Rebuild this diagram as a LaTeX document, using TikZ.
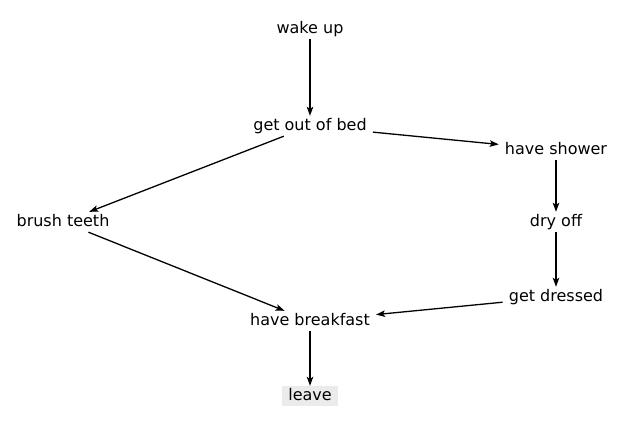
\documentclass[tikz,border=0pt]{standalone}
\usepackage{fontspec}
\setmainfont{DejaVu Sans}
\usetikzlibrary{arrows.meta}
\begin{document}
\begin{tikzpicture}[x=1pt,y=-1pt,
  every node/.style={font=\fontsize{16}{19}\selectfont, inner xsep=6pt, inner ysep=2pt,
    text height=12pt, text depth=4pt, anchor=center},
  stepnode/.style={},
  lastnode/.style={fill=black!8},
  conn/.style={line width=1.3pt, -{Stealth[length=9pt,width=6.5pt,inset=2pt]}}]
\useasboundingbox (0,0) rectangle (623,421);
\node[stepnode] (wake) at (310,29) {wake up};
\node[stepnode] (bed) at (310,126) {get out of bed};
\node[stepnode] (shower) at (556,150) {have shower};
\node[stepnode] (teeth) at (63,222) {brush teeth};
\node[stepnode] (dry) at (556,222) {dry off};
\node[stepnode] (dressed) at (556,297) {get dressed};
\node[stepnode] (breakfast) at (310,321) {have breakfast};
\node[lastnode] (leave) at (310,396) {leave};
\draw[conn] (wake) -- (bed);
\draw[conn] (bed) -- (shower);
\draw[conn] (bed) -- (teeth);
\draw[conn] (shower) -- (dry);
\draw[conn] (dry) -- (dressed);
\draw[conn] (teeth) -- (breakfast);
\draw[conn] (dressed) -- (breakfast);
\draw[conn] (breakfast) -- (leave);
\end{tikzpicture}
\end{document}
